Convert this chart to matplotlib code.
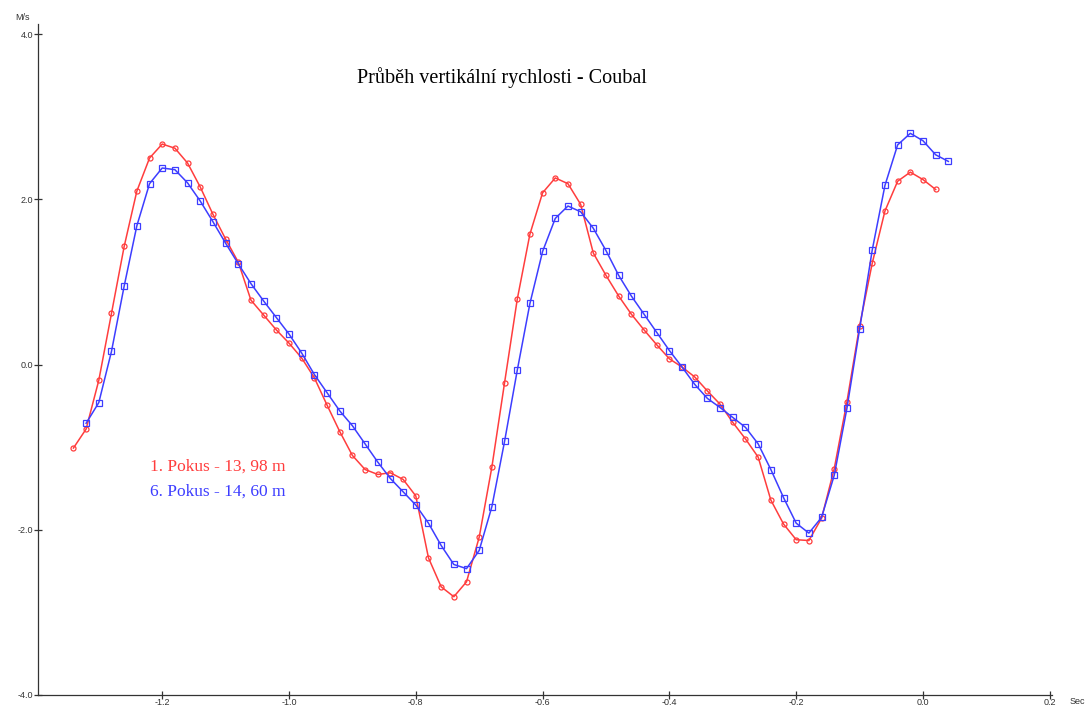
import numpy as np
import matplotlib
matplotlib.use("Agg")
import matplotlib.pyplot as plt

# Vertical velocity over time (s), two attempts
t_start_1 = -1.34
v_pokus1 = [
    -1.01, -0.78, -0.19, 0.62, 1.43, 2.10, 2.50, 2.67, 2.62, 2.44,
    2.15, 1.82, 1.52, 1.24, 0.78, 0.60, 0.42, 0.26, 0.08, -0.16,
    -0.49, -0.81, -1.10, -1.27, -1.33, -1.31, -1.39, -1.59, -2.34, -2.69,
    -2.81, -2.63, -2.09, -1.24, -0.22, 0.79, 1.58, 2.08, 2.26, 2.19,
    1.94, 1.35, 1.08, 0.83, 0.61, 0.42, 0.24, 0.07, -0.03, -0.15,
    -0.32, -0.48, -0.70, -0.90, -1.12, -1.64, -1.93, -2.12, -2.13, -1.86,
    -1.26, -0.45, 0.47, 1.23, 1.86, 2.22, 2.33, 2.24, 2.12,
]

t_start_6 = -1.32
v_pokus6 = [
    -0.71, -0.46, 0.16, 0.95, 1.68, 2.19, 2.38, 2.36, 2.20, 1.98,
    1.73, 1.47, 1.22, 0.98, 0.77, 0.57, 0.37, 0.14, -0.12, -0.34,
    -0.56, -0.74, -0.96, -1.18, -1.38, -1.54, -1.70, -1.92, -2.19, -2.42,
    -2.47, -2.25, -1.72, -0.93, -0.07, 0.74, 1.37, 1.77, 1.92, 1.85,
    1.65, 1.38, 1.08, 0.83, 0.61, 0.39, 0.17, -0.03, -0.24, -0.41,
    -0.52, -0.64, -0.76, -0.96, -1.27, -1.61, -1.92, -2.04, -1.85, -1.34,
    -0.53, 0.43, 1.39, 2.17, 2.66, 2.80, 2.71, 2.54, 2.46,
]

dt = 0.02
t_pokus1 = t_start_1 + dt * np.arange(len(v_pokus1))
t_pokus6 = t_start_6 + dt * np.arange(len(v_pokus6))

x_ticks = [-1.2, -1.0, -0.8, -0.6, -0.4, -0.2, 0.0, 0.2]
y_ticks = [-4.0, -2.0, 0.0, 2.0, 4.0]

title = "Průběh vertikální rychlosti - Coubal"
label_1 = "1. Pokus - 13, 98 m"
label_6 = "6. Pokus - 14, 60 m"

red = "#ff3d3d"
blue = "#3d3dff"

W, H = 1089, 707
fig = plt.figure(figsize=(W / 100, H / 100), dpi=100)
fig.patch.set_facecolor("white")

# axes box: left spine at px 38, x-axis at px 695, top of spine at px 24
left_px, right_px = 38, 1052
bottom_px, top_px = 695, 24
ax = fig.add_axes([left_px / W, (H - bottom_px) / H,
                   (right_px - left_px) / W, (bottom_px - top_px) / H])

ax.plot(t_pokus1, v_pokus1, color=red, lw=1.1, marker="o", ms=3.6,
        mfc="none", mec=red, mew=0.9)
ax.plot(t_pokus6, v_pokus6, color=blue, lw=1.1, marker="s", ms=4.2,
        mfc="none", mec=blue, mew=0.9)

x0_px, sx = 923.0, 634.0
ax.set_xlim((left_px - x0_px) / sx, (right_px - x0_px) / sx)
sy = 82.6
ax.set_ylim(-4.0, -4.0 + (bottom_px - top_px) / sy)

ax.spines["top"].set_visible(False)
ax.spines["right"].set_visible(False)
for s in ("left", "bottom"):
    ax.spines[s].set_color("#333333")
    ax.spines[s].set_linewidth(0.9)

tick_font = dict(family="Liberation Sans", size=6.5, color="#333333")
ax.set_xticks(x_ticks)
ax.set_xticklabels([f"{v:.1f}" for v in x_ticks], **tick_font)
ax.set_yticks(y_ticks)
ax.set_yticklabels([f"{v:.1f}" for v in y_ticks], **tick_font)
ax.tick_params(axis="both", direction="inout", length=6, width=0.9,
               color="#333333", pad=0.5)
ax.tick_params(axis="x", pad=-0.5)

fig.text(22 / W, 1 - 17 / H, "M/s", ha="center", va="center", **tick_font)
fig.text(1077 / W, 1 - 701 / H, "Sec", ha="center", va="center", **tick_font)

fig.text(502 / W, 1 - 78 / H, title, ha="center", va="center",
         family="Liberation Serif", fontsize=14.5, color="black")
fig.text(150 / W, 1 - 467 / H, label_1, ha="left", va="center",
         family="Liberation Serif", fontsize=12.5, color=red)
fig.text(150 / W, 1 - 492 / H, label_6, ha="left", va="center",
         family="Liberation Serif", fontsize=12.5, color=blue)

fig.savefig("out.png", dpi=100, facecolor="white")
